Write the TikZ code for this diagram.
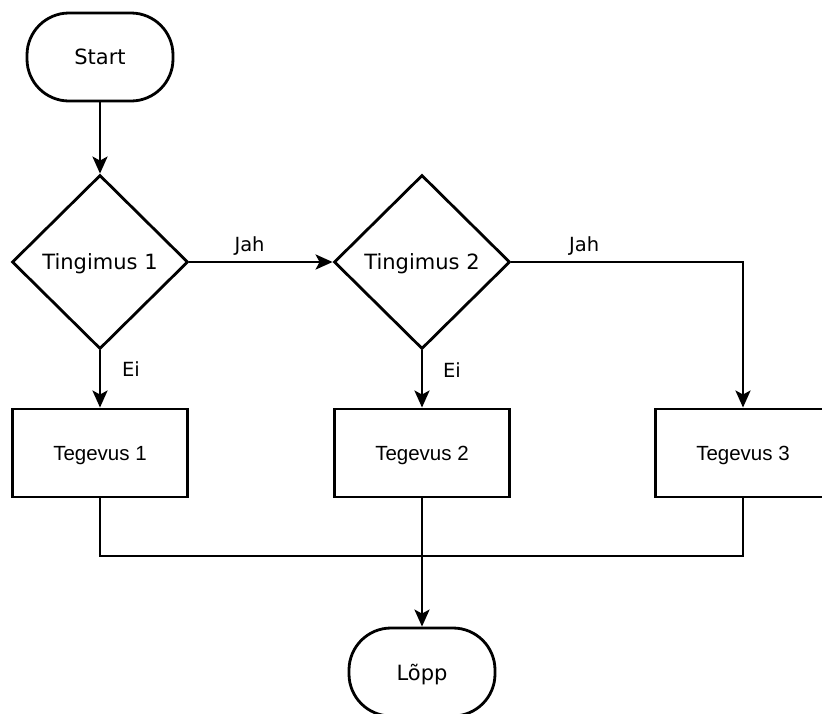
\documentclass[tikz,border=0pt]{standalone}
\usepackage{fontspec}
\usetikzlibrary{shapes.geometric,arrows.meta}
\newfontfamily\flowfont{DejaVu Sans}
\newfontfamily\actfont{Liberation Sans}
\tikzset{
  terminal/.style={draw, line width=2.8pt, rounded corners=42pt, minimum width=146pt,
    minimum height=88pt, font=\flowfont\fontsize{21}{24}\selectfont, inner sep=0pt,
    text depth=0pt},
  decision/.style={draw, diamond, line width=2.8pt, minimum width=176pt, minimum height=174pt,
    font=\flowfont\fontsize{21}{24}\selectfont, inner sep=0pt, text depth=0pt},
  action/.style={draw, rectangle, line width=2.9pt, minimum width=175pt, minimum height=88pt,
    font=\actfont\fontsize{20.5}{24}\selectfont, inner sep=0pt, text depth=0pt},
  flow/.style={line width=2.8pt, -{Stealth[length=17pt,width=15pt,inset=4pt]}},
  plain/.style={line width=2.8pt},
  lbl/.style={font=\flowfont\fontsize{19.5}{24}\selectfont, inner sep=0pt}
}
\begin{document}
\begin{tikzpicture}[x=1pt,y=-1pt]
  \useasboundingbox (0,0) rectangle (822,713);
  \fill[white] (0,0) rectangle (822,713);

  \node[terminal] (start) at (100,57) {Start};
  \node[decision] (c1) at (100,262) {Tingimus 1};
  \node[decision] (c2) at (422,262) {Tingimus 2};
  \node[action] (a1) at (100,453) {Tegevus 1};
  \node[action] (a2) at (422,453) {Tegevus 2};
  \node[action] (a3) at (743,453) {Tegevus 3};
  \node[terminal] (stop) at (422,672) {Lõpp};

  \coordinate (join) at (100,556);

  \draw[flow] (start) -- (c1);
  \draw[flow] (c1.east) -- node[lbl, pos=0.42, yshift=16pt] {Jah} (c2.west);
  \draw[flow] (c2.east) -| node[lbl, pos=0.157, yshift=16pt] {Jah} (a3.north);
  \draw[flow] (c1.south) -- node[lbl, pos=0.32, xshift=31pt] {Ei} (a1.north);
  \draw[flow] (c2.south) -- node[lbl, pos=0.35, xshift=30pt] {Ei} (a2.north);

  \draw[plain] (a1.south) -- (join) -| (a3.south);
  \draw[flow] (a2.south) -- (stop.north);
\end{tikzpicture}
\end{document}
